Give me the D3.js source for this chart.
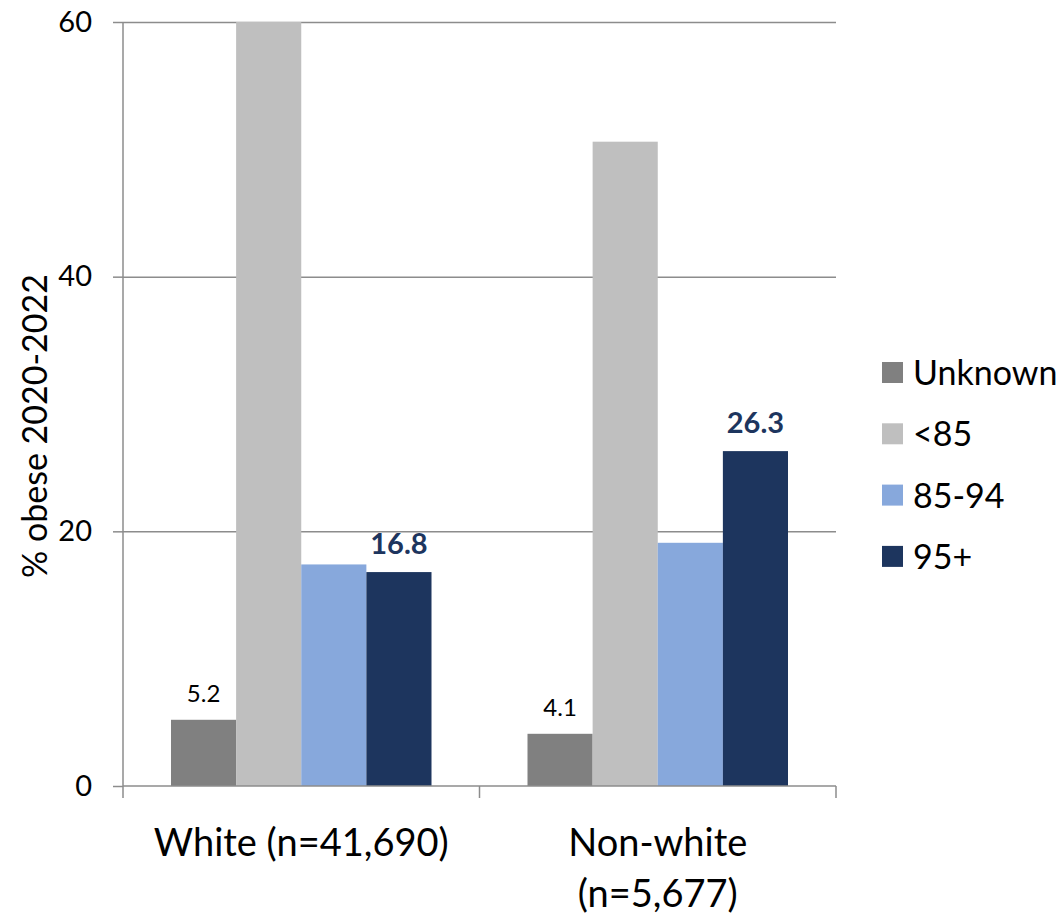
<!DOCTYPE html>
<html>
<head>
<meta charset="utf-8">
<script src="https://cdn.jsdelivr.net/npm/d3@7"></script>
<style>
  body { margin: 0; background: #fff; }
  svg { font-family: Lato, "Open Sans", sans-serif; }
</style>
</head>
<body>
<svg width="1061" height="916"></svg>
<script>
var groups = ["White (n=41,690)", "Non-white (n=5,677)"];
var groupLines = [["White (n=41,690)"], ["Non-white", "(n=5,677)"]];
var series = ["Unknown", "<85", "85-94", "95+"];
var colors = ["#808080", "#bfbfbf", "#87a8dc", "#1d355e"];
var values = {
  "Unknown": [5.2, 4.1],
  "<85": [60.6, 50.6],
  "85-94": [17.4, 19.1],
  "95+": [16.8, 26.3]
};
var yTicks = [0, 20, 40, 60];

var svg = d3.select("svg"),
    margin = {top: 22, right: 225, bottom: 130, left: 123},
    width = 1061 - margin.left - margin.right,
    height = 916 - margin.top - margin.bottom,
    g = svg.append("g").attr("transform", "translate(" + margin.left + "," + margin.top + ")");

var x0 = d3.scaleBand().domain(groups).range([0, width]).paddingInner(0).paddingOuter(0);
var x1 = d3.scaleBand().domain(series).range([48, x0.bandwidth() - 48]).padding(0);
var y = d3.scaleLinear().domain([0, 60]).range([height, 0]);
var z = d3.scaleOrdinal().domain(series).range(colors);

// gridlines
g.append("g")
    .attr("class", "grid")
    .call(d3.axisLeft(y).tickValues(yTicks.slice(1)).tickSize(-width).tickFormat(""))
    .call(function(s) {
      s.select(".domain").remove();
      s.selectAll("line").attr("stroke", "#8c8c8c").attr("stroke-width", 1.5);
    });

g.append("clipPath").attr("id", "plotclip")
  .append("rect").attr("x", 0).attr("y", 0).attr("width", width).attr("height", height);

var rows = [];
groups.forEach(function(gr, i) {
  series.forEach(function(s) { rows.push({group: gr, key: s, value: values[s][i]}); });
});

g.append("g").attr("clip-path", "url(#plotclip)")
  .selectAll("rect")
  .data(rows)
  .enter().append("rect")
    .attr("x", function(d) { return x0(d.group) + x1(d.key); })
    .attr("y", function(d) { return y(d.value); })
    .attr("width", x1.bandwidth())
    .attr("height", function(d) { return height - y(d.value); })
    .attr("fill", function(d) { return z(d.key); });

// y axis
g.append("g")
    .call(d3.axisLeft(y).tickValues(yTicks).tickSize(10).tickPadding(21))
    .call(function(s) {
      s.select(".domain").attr("stroke", "#8c8c8c").attr("stroke-width", 1.5).attr("d", "M0," + height + "V0");
      s.selectAll("line").attr("stroke", "#8c8c8c").attr("stroke-width", 1.5);
      s.selectAll("text").attr("font-size", 29).attr("fill", "#000").attr("font-family", "Lato, sans-serif");
    });

// x axis
var xg = g.append("g").attr("transform", "translate(0," + height + ")");
xg.append("line").attr("x1", 0).attr("x2", width).attr("stroke", "#8c8c8c").attr("stroke-width", 1.5);
xg.selectAll(".xt")
  .data([0].concat(groups.map(function(gr) { return x0(gr) + x0.bandwidth(); })))
  .enter().append("line")
    .attr("x1", function(d) { return d; }).attr("x2", function(d) { return d; })
    .attr("y1", 0).attr("y2", 12)
    .attr("stroke", "#8c8c8c").attr("stroke-width", 1.5);

groupLines.forEach(function(lines, i) {
  var cx = x0(groups[i]) + x0.bandwidth() / 2;
  lines.forEach(function(t, j) {
    xg.append("text")
      .attr("x", cx).attr("y", 70 + j * 51)
      .attr("text-anchor", "middle")
      .attr("font-size", 38)
      .attr("fill", "#000")
      .text(t);
  });
});

// y title
svg.append("text")
  .attr("transform", "translate(47," + (margin.top + height / 2 + 22) + ") rotate(-90)")
  .attr("text-anchor", "middle")
  .attr("font-size", 34)
  .attr("fill", "#000")
  .text("% obese 2020-2022");

// data labels
var labels = rows.filter(function(d) { return d.key === "Unknown" || d.key === "95+"; });
g.selectAll(".lbl")
  .data(labels)
  .enter().append("text")
    .attr("x", function(d) { return x0(d.group) + x1(d.key) + x1.bandwidth() / 2; })
    .attr("y", function(d) { return y(d.value) - 18; })
    .attr("text-anchor", "middle")
    .attr("font-size", function(d) { return d.key === "95+" ? 29 : 24; })
    .attr("font-weight", function(d) { return d.key === "95+" ? "bold" : "normal"; })
    .attr("fill", function(d) { return d.key === "95+" ? "#1d355e" : "#000"; })
    .text(function(d) { return d3.format(".1f")(d.value); });

// legend
var legend = svg.append("g").attr("transform", "translate(882,362)");
var li = legend.selectAll("g").data(series).enter().append("g")
  .attr("transform", function(d, i) { return "translate(0," + (i * 61.3) + ")"; });
li.append("rect").attr("width", 21).attr("height", 21).attr("fill", function(d) { return z(d); });
li.append("text").attr("x", 31).attr("y", 11).attr("dy", "0.35em")
  .attr("font-size", 34).attr("fill", "#000").text(function(d) { return d; });
</script>
</body>
</html>
